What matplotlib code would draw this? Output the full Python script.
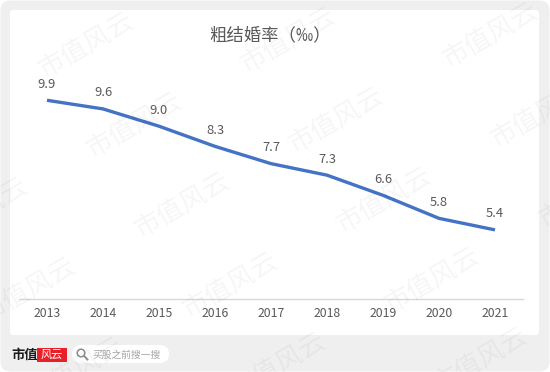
import matplotlib
matplotlib.use('Agg')
import matplotlib.pyplot as plt
from matplotlib.patches import FancyBboxPatch, Rectangle, Circle
from matplotlib.lines import Line2D

years = ['2013', '2014', '2015', '2016', '2017', '2018', '2019', '2020', '2021']
rate = [9.9, 9.6, 9.0, 8.3, 7.7, 7.3, 6.6, 5.8, 5.4]
title = '粗结婚率（‰）'

plt.rcParams['font.family'] = ['Noto Sans CJK SC', 'DejaVu Sans']

W, H = 550, 372
fig = plt.figure(figsize=(W / 100, H / 100), dpi=100, facecolor='white')
tr = fig.dpi_scale_trans


def px(x, y):
	# pixel coords (top-left origin) -> inches
	return x / 100, (H - y) / 100


# grey card + white panel
x0, y0 = px(0, H)
fig.patches.append(FancyBboxPatch((x0 + 0.005, y0 + 0.005), W / 100 - 0.01, H / 100 - 0.01,
                                  boxstyle='round,pad=0,rounding_size=0.1',
                                  fc='#efefef', ec='none', transform=tr, zorder=-2))
x0, y0 = px(10, 335)
fig.patches.append(FancyBboxPatch((x0, y0), 5.29, 3.25,
                                  boxstyle='round,pad=0,rounding_size=0.03',
                                  fc='white', ec='none', transform=tr, zorder=-1))

# chart
ax = fig.add_axes([19 / W, (H - 299) / H, (523 - 19) / W, 230.4 / H])
ax.set_zorder(1)
ax.set_facecolor('none')
xs = list(range(len(years)))
ax.plot(xs, rate, color='#4472C4', lw=2.4, solid_capstyle='butt', zorder=3)
for i, v in zip(xs, rate):
	ax.annotate(f'{v:.1f}', (i, v), xytext=(0, 11.5), textcoords='offset points',
	            ha='center', va='center', fontsize=9.3, color='#595959')
ax.set_xlim(-0.5, len(years) - 0.5)
ax.set_ylim(3, 11)
ax.set_xticks(xs)
ax.set_xticklabels(years, fontsize=8.8, color='#595959')
ax.set_yticks([])
ax.tick_params(axis='x', length=0, pad=6)
for s in ['top', 'right', 'left']:
	ax.spines[s].set_visible(False)
ax.spines['bottom'].set_color('#d9d9d9')
ax.spines['bottom'].set_linewidth(1)

fig.text(270 / W, (H - 35) / H, title, ha='center', va='center',
         fontsize=12.5, color='#595959')

# bottom logo and search pill
fig.text(11 / W, (H - 355) / H, '市值', ha='left', va='center',
         fontsize=9.5, fontweight='bold', color='#1a1a1a')
x0, y0 = px(37, 362)
fig.patches.append(Rectangle((x0, y0), 0.30, 0.14, fc='#e8202a', ec='none', transform=tr, zorder=2))
fig.text(52 / W, (H - 355) / H, '风云', ha='center', va='center',
         fontsize=8, color='white', style='italic', zorder=3)
x0, y0 = px(72, 363)
fig.patches.append(FancyBboxPatch((x0, y0), 0.97, 0.18,
                                  boxstyle='round,pad=0,rounding_size=0.09',
                                  fc='white', ec='none', transform=tr, zorder=2))
cx, cy = px(81, 353)
fig.patches.append(Circle((cx, cy), 0.038, fc='none', ec='#8c8c8c', lw=1.1, transform=tr, zorder=3))
lx1, ly1 = px(84, 356)
lx2, ly2 = px(87.5, 359.5)
fig.lines.append(Line2D([lx1, lx2], [ly1, ly2], color='#8c8c8c', lw=1.3, transform=tr, zorder=3))
fig.text(92 / W, (H - 355) / H, '买股之前搜一搜', ha='left', va='center',
         fontsize=7, color='#a6a6a6', zorder=3)

# watermark lattice
for r in range(-1, 6):
	for c in range(-1, 4):
		wx = 86 + 202 * c + 48 * r
		wy = 45 - 5 * c + 80 * r
		if -60 < wx < W + 60 and -40 < wy < H + 40:
			fig.text(wx / W, (H - wy) / H, '市值风云', ha='center', va='center',
			         rotation=30, fontsize=19, fontweight='light',
			         color='black', alpha=0.04, zorder=10)

fig.savefig('out.png', dpi=100, facecolor='white')
